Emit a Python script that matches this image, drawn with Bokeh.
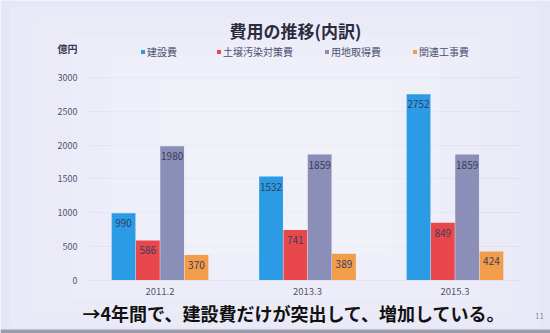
from bokeh.plotting import figure
from bokeh.models import (ColumnDataSource, Range1d, FixedTicker, LabelSet, Label,
                          Legend, LegendItem, BoxAnnotation)
from bokeh.core.properties import value
from bokeh.transform import dodge
from bokeh.embed import file_html
from bokeh.resources import INLINE

categories = ["2011.2", "2013.3", "2015.3"]
series_names = ["建設費", "土壌汚染対策費", "用地取得費", "関連工事費"]
construction = [990, 1532, 2752]
soil = [586, 741, 849]
land = [1980, 1859, 1859]
related = [370, 389, 424]
y_ticks = [0, 500, 1000, 1500, 2000, 2500, 3000]

colors = ["#2b9be6", "#e8474c", "#8b8eb6", "#f39c4a"]
FONT = "Noto Sans CJK JP"
BG = "#e6e6f6"

# layout constants (pixel geometry of the slide)
W, H = 550, 333
GROUP_PX = 147.5          # px per category step
X0_PX = 159.5             # px of first category
Y0_PX = 53.5              # px (from bottom) of value 0
PX_PER_UNIT = 202.5 / 3000
x_start = -X0_PX / GROUP_PX
x_end = (W - X0_PX) / GROUP_PX
y_start = -Y0_PX / PX_PER_UNIT
y_end = (H - Y0_PX) / PX_PER_UNIT
plot_left = (88 - X0_PX) / GROUP_PX
plot_right = (520 - X0_PX) / GROUP_PX

src = ColumnDataSource(dict(
    x=list(range(len(categories))),
    s0=construction, s1=soil, s2=land, s3=related,
    t0=[str(v) for v in construction], t1=[str(v) for v in soil],
    t2=[str(v) for v in land], t3=[str(v) for v in related],
))

p = figure(width=W, height=H, x_range=Range1d(x_start, x_end), y_range=Range1d(y_start, y_end),
           output_backend="svg", toolbar_location=None,
           min_border=0, min_border_left=0, min_border_right=0, min_border_top=0, min_border_bottom=0)
p.title = None
p.background_fill_color = BG
p.border_fill_color = BG
p.outline_line_color = None

# soft vignette: brighter toward the centre
for k, (ix, iy) in enumerate([(10, 6), (35, 18), (70, 35), (110, 55), (160, 80)]):
    p.add_layout(BoxAnnotation(left=ix, right=W - ix, bottom=iy, top=H - iy,
                               left_units="screen", right_units="screen",
                               bottom_units="screen", top_units="screen",
                               fill_color="white", fill_alpha=0.13, line_color=None, level="underlay"))
p.add_layout(BoxAnnotation(left=0, right=W, bottom=0, top=4,
                           left_units="screen", right_units="screen",
                           bottom_units="screen", top_units="screen",
                           fill_color="#8a8a98", fill_alpha=0.8, line_color=None, level="underlay"))

w = 0.1647
offsets = [-1.5 * w, -0.5 * w, 0.5 * w, 1.5 * w]
items = []
for i in range(4):
    r = p.vbar(x=dodge("x", offsets[i], range=p.x_range), top="s%d" % i, width=w * 0.98,
               source=src, color=colors[i], line_color=None)
    items.append(LegendItem(label=series_names[i], renderers=[r]))
    p.add_layout(LabelSet(x=dodge("x", offsets[i], range=p.x_range), y="s%d" % i, text="t%d" % i,
                          source=src, y_offset=-10, text_align="center", text_baseline="middle",
                          text_font_size=value("10px"), text_color=value("#33405f"),
                          text_font=value(FONT)))

legend = Legend(items=items, orientation="horizontal", location=(140, 274),
                spacing=31, glyph_width=5, glyph_height=5, label_standoff=2,
                label_height=10, label_width=38,
                label_text_font=FONT, label_text_font_size="10px", label_text_color="#4a5070",
                background_fill_alpha=0, border_line_color=None, padding=0, margin=0)
p.add_layout(legend, "center")

p.xaxis.fixed_location = 0
p.xaxis.ticker = FixedTicker(ticks=list(range(len(categories))))
p.xaxis.major_label_overrides = {i: c for i, c in enumerate(categories)}
p.xaxis.axis_line_color = None
p.xaxis.major_tick_line_color = None
p.xaxis.major_tick_out = 0
p.xaxis.major_tick_in = 0
p.xaxis.minor_tick_line_color = None
p.xaxis.major_label_text_font = FONT
p.xaxis.major_label_text_font_size = "9.5px"
p.xaxis.major_label_text_color = "#50546a"
p.xaxis.major_label_standoff = 8

p.yaxis.fixed_location = plot_left
p.yaxis.ticker = FixedTicker(ticks=y_ticks)
p.yaxis.axis_line_color = None
p.yaxis.major_tick_line_color = None
p.yaxis.major_tick_out = 0
p.yaxis.major_tick_in = 0
p.yaxis.minor_tick_line_color = None
p.yaxis.major_label_text_font = FONT
p.yaxis.major_label_text_font_size = "9px"
p.yaxis.major_label_text_color = "#50546a"
p.yaxis.major_label_standoff = 11

p.xgrid.grid_line_color = None
p.ygrid.grid_line_color = "#d6d9ea"
p.ygrid.grid_line_width = 1
p.ygrid.cross_bounds = (plot_left, plot_right)

def screen_label(x, y, text, size, color, bold=False):
    p.add_layout(Label(x=x, y=y, x_units="screen", y_units="screen", text=text,
                       text_font=FONT, text_font_size=size,
                       text_font_style="bold" if bold else "normal",
                       text_color=color, text_align="center", text_baseline="middle"))

screen_label(295, H - 30, "費用の推移(内訳)", "17px", "#2c2c3c", bold=True)
screen_label(67, H - 48, "億円", "10px", "#3a3a4c", bold=True)
screen_label(293.5, H - 312, "→4年間で、建設費だけが突出して、増加している。", "18px", "#111111", bold=True)
screen_label(539, H - 315.5, "11", "8px", "#8a8aa0")

open("out.html", "w").write(file_html(p, INLINE))
